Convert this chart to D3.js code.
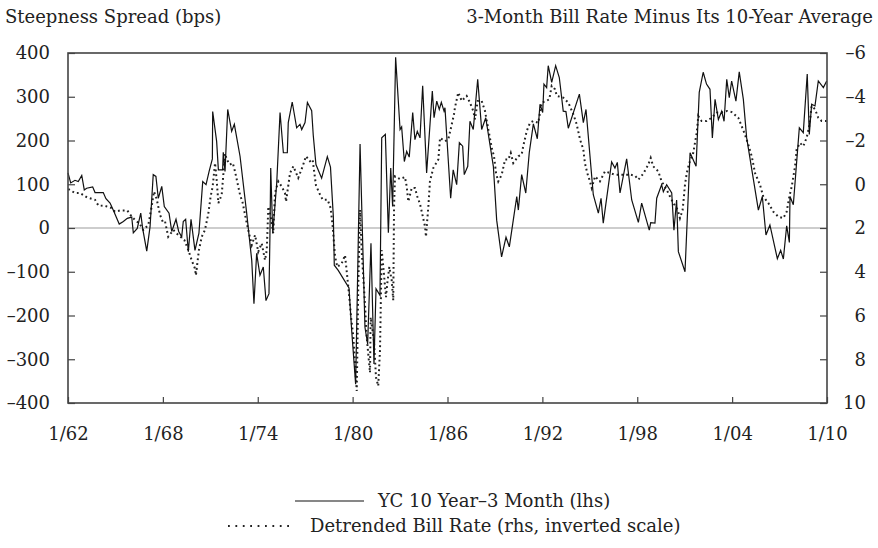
<!DOCTYPE html>
<html>
<head>
<meta charset="utf-8">
<script src="https://cdn.jsdelivr.net/npm/d3@7"></script>
<style>
	body { margin: 0; background: #fff; }
	svg text { font-family: "Palatino Linotype", Palatino, "Book Antiqua", "DejaVu Serif", serif; fill: #222; }
</style>
</head>
<body>
<svg id="chart" width="878" height="548"></svg>
<script>
// YC 10 Year - 3 Month spread (bps, left scale)
const ycYears = [1962.00,1962.17,1962.44,1962.65,1962.87,1963.03,1963.18,1963.56,1963.71,1964.23,1964.40,1964.66,1964.86,1965.24,1965.50,1965.75,1966.03,1966.13,1966.38,1966.60,1966.72,1966.98,1967.19,1967.39,1967.56,1967.71,1967.93,1968.09,1968.39,1968.56,1968.83,1969.00,1969.19,1969.29,1969.44,1969.61,1969.78,1970.03,1970.28,1970.52,1970.73,1970.92,1971.13,1971.15,1971.40,1971.51,1971.78,1971.82,1971.93,1972.10,1972.35,1972.52,1972.88,1973.30,1973.62,1973.76,1973.93,1974.14,1974.35,1974.52,1974.71,1974.77,1974.82,1974.95,1975.20,1975.41,1975.62,1975.87,1975.93,1976.18,1976.46,1976.67,1976.78,1976.99,1977.14,1977.41,1977.51,1977.68,1978.04,1978.40,1978.60,1978.78,1978.84,1979.09,1979.77,1979.94,1980.19,1980.47,1980.78,1980.95,1981.16,1981.35,1981.48,1981.73,1981.84,1982.07,1982.26,1982.41,1982.53,1982.72,1983.00,1983.10,1983.27,1983.42,1983.58,1983.80,1983.94,1984.09,1984.26,1984.43,1984.68,1985.04,1985.15,1985.32,1985.48,1985.61,1985.78,1985.84,1986.20,1986.36,1986.58,1986.75,1986.96,1987.06,1987.28,1987.42,1987.63,1987.91,1988.16,1988.42,1988.90,1989.11,1989.42,1989.70,1989.91,1990.16,1990.38,1990.48,1990.69,1990.95,1991.17,1991.43,1991.68,1991.85,1992.02,1992.10,1992.27,1992.37,1992.59,1992.84,1993.07,1993.32,1993.49,1993.64,1994.34,1994.59,1994.76,1995.22,1995.54,1995.71,1995.85,1996.38,1996.59,1996.74,1996.91,1997.33,1997.65,1998.07,1998.28,1998.76,1998.85,1999.12,1999.23,1999.54,1999.65,1999.86,2000.18,2000.32,2000.49,2000.60,2001.02,2001.34,2001.72,2001.92,2002.17,2002.38,2002.60,2002.75,2002.92,2003.13,2003.34,2003.49,2003.66,2003.82,2003.97,2004.24,2004.45,2004.71,2004.92,2005.66,2005.91,2006.14,2006.39,2006.86,2007.07,2007.24,2007.45,2007.62,2007.66,2007.87,2008.25,2008.50,2008.75,2008.88,2009.03,2009.24,2009.45,2009.77,2009.98];
const ycValues = [126,103,109,106,120,87,91,94,81,81,67,57,41,9,15,22,25,-11,-1,34,-1,-53,3,122,118,68,95,49,34,-8,20,-8,-20,15,20,-54,20,-51,-12,106,99,129,158,266,198,133,133,173,129,271,221,237,164,34,-74,-173,-58,-108,-89,-166,-150,-20,137,-12,103,264,172,172,241,288,229,237,225,241,287,268,212,145,114,163,139,26,-85,-97,-137,-234,-357,192,-227,-265,-35,-311,-139,-154,206,214,-11,137,49,390,225,231,152,175,162,264,202,221,206,325,126,313,252,290,271,287,267,275,68,133,99,195,187,122,141,244,225,340,225,252,141,18,-66,-21,-43,18,72,41,122,80,172,238,204,283,264,329,321,371,333,371,344,267,266,228,306,241,271,76,34,68,11,151,137,150,80,158,64,13,57,-5,12,11,68,99,83,99,80,-5,64,-54,-100,172,141,310,356,329,317,206,294,248,267,244,340,298,336,290,357,294,206,41,72,-16,7,-70,-51,-71,5,-33,72,53,229,218,352,214,283,279,336,321,336];

// detrended 3-month bill rate (pct points, right scale, inverted)
const billYears = [1962.02,1962.44,1962.76,1963.22,1963.71,1963.92,1964.34,1964.76,1964.97,1965.29,1965.75,1966.03,1966.30,1966.51,1966.76,1967.08,1967.29,1967.44,1967.61,1967.82,1967.99,1968.13,1968.34,1968.66,1968.98,1969.36,1969.61,1969.82,1970.03,1970.09,1970.28,1970.46,1970.66,1970.87,1971.02,1971.15,1971.30,1971.40,1971.51,1971.72,1971.93,1972.04,1972.24,1972.42,1972.56,1972.88,1973.05,1973.26,1973.40,1973.62,1973.83,1974.03,1974.25,1974.46,1974.57,1974.67,1974.82,1974.98,1975.09,1975.30,1975.51,1975.72,1975.79,1976.04,1976.25,1976.56,1976.84,1977.05,1977.30,1977.47,1977.68,1977.89,1978.11,1978.42,1978.61,1978.74,1978.89,1979.03,1979.31,1979.52,1979.63,1979.79,1979.90,1980.04,1980.15,1980.26,1980.30,1980.36,1980.47,1980.57,1980.78,1980.89,1981.10,1981.14,1981.35,1981.48,1981.62,1981.73,1981.84,1981.94,1982.11,1982.19,1982.32,1982.47,1982.57,1982.62,1982.68,1983.00,1983.31,1983.42,1983.52,1983.74,1983.94,1984.09,1984.26,1984.37,1984.58,1984.64,1984.72,1984.79,1984.89,1985.10,1985.42,1985.53,1985.84,1986.05,1986.27,1986.41,1986.47,1986.68,1986.90,1987.21,1987.42,1987.63,1987.74,1987.91,1988.16,1988.37,1988.58,1988.80,1988.94,1989.07,1989.21,1989.43,1989.64,1989.85,1990.00,1990.16,1990.48,1990.69,1990.79,1991.01,1991.22,1991.43,1991.74,1991.96,1992.27,1992.44,1992.59,1992.80,1992.91,1993.32,1993.64,1993.96,1994.17,1994.38,1994.59,1994.69,1994.84,1995.01,1995.12,1995.33,1995.64,1995.96,1996.28,1996.59,1997.02,1997.54,1997.86,1998.07,1998.38,1998.70,1998.85,1999.01,1999.33,1999.54,1999.86,2000.07,2000.28,2000.56,2000.70,2000.87,2001.02,2001.13,2001.29,2001.54,2001.76,2001.86,2002.07,2002.39,2002.71,2003.02,2003.40,2003.69,2003.97,2004.39,2004.60,2004.81,2005.02,2005.24,2005.45,2005.76,2005.97,2006.29,2006.60,2006.92,2007.24,2007.45,2007.62,2007.77,2007.98,2008.08,2008.29,2008.50,2008.71,2008.88,2009.03,2009.24,2009.45,2009.66,2009.98];
const billValues = [0.22,0.40,0.40,0.61,0.71,0.97,0.99,1.09,1.25,1.20,1.20,1.48,1.68,1.78,2.09,1.86,1.02,0.33,0.68,1.40,1.71,1.68,2.40,2.09,2.32,2.55,3.01,3.47,3.85,4.16,3.01,2.40,2.09,1.36,0.56,0.10,-0.97,-0.21,0.86,0.48,-1.40,-1.13,-0.90,-0.97,-0.59,0.48,0.86,1.63,2.09,2.78,2.32,3.09,2.70,3.47,3.01,1.02,1.48,2.24,0.40,-0.13,0.10,0.40,0.79,-0.51,-0.82,-0.29,-0.82,-1.28,-1.05,-1.13,0.05,0.40,0.71,0.71,1.09,1.94,3.30,3.78,3.62,3.24,4.01,5.16,6.08,6.92,8.22,9.45,7.61,4.54,1.17,3.01,5.46,7.00,8.61,6.08,7.15,8.84,9.22,7.61,3.01,3.78,5.16,4.54,3.78,4.39,5.31,1.02,-0.36,-0.24,-0.33,0.10,0.79,0.17,0.17,0.56,0.90,1.25,1.94,2.40,1.63,1.02,-0.13,-0.74,-1.13,-2.12,-1.97,-2.05,-2.74,-3.20,-3.50,-4.19,-3.81,-4.04,-3.73,-3.35,-2.97,-3.81,-3.81,-3.35,-2.51,-1.66,-1.28,-0.51,-0.13,-0.44,-1.13,-1.13,-1.43,-0.97,-1.28,-1.36,-1.74,-2.43,-2.81,-2.89,-2.81,-3.73,-3.81,-3.89,-4.50,-4.34,-4.04,-3.96,-3.73,-3.20,-2.74,-2.05,-1.59,-0.97,-0.51,-0.13,0.17,-0.36,-0.13,-0.59,-0.51,-0.44,-0.44,-0.44,-0.39,-0.21,-0.48,-0.90,-1.20,-0.82,-0.59,-0.13,0.25,0.56,0.86,1.17,1.55,1.17,0.02,-0.51,-0.97,-1.43,-2.35,-3.12,-2.89,-2.89,-3.04,-3.27,-3.30,-3.35,-3.30,-3.04,-2.66,-2.28,-1.82,-1.28,-0.51,0.02,0.56,0.86,1.25,1.48,1.55,1.25,0.56,0.10,-0.82,-1.59,-1.89,-1.74,-2.12,-2.66,-3.58,-3.43,-3.04,-2.89,-2.89];

const xTickYears = [1962,1968,1974,1980,1986,1992,1998,2004,2010];
const xTickLabels = ["1/62","1/68","1/74","1/80","1/86","1/92","1/98","1/04","1/10"];
const leftTicks = [400,300,200,100,0,-100,-200,-300,-400];
const rightTicks = [-6,-4,-2,0,2,4,6,8,10];

const svg = d3.select("#chart"),
	margin = {top: 53, right: 51, bottom: 145, left: 68},
	width = +svg.attr("width") - margin.left - margin.right,
	height = +svg.attr("height") - margin.top - margin.bottom,
	x = d3.scaleLinear().domain([1962, 2010]).range([0, width]),
	yL = d3.scaleLinear().domain([-400, 400]).range([height, 0]),
	yR = d3.scaleLinear().domain([-6, 10]).range([0, height]),
	g = svg.append("g").attr("transform", `translate(${margin.left},${margin.top})`);

const dash = d => d < 0 ? "\u2013" + Math.abs(d) : "" + d;

// zero line
g.append("line")
	.attr("x1", 0).attr("x2", width)
	.attr("y1", yL(0)).attr("y2", yL(0))
	.attr("stroke", "#bdbdbd").attr("stroke-width", 1.5);

// detrended bill rate, dotted
g.append("path")
	.datum(billYears.map((d, i) => [d, billValues[i]]))
	.attr("fill", "none")
	.attr("stroke", "#222")
	.attr("stroke-width", 2)
	.attr("stroke-dasharray", "1.8,3")
	.attr("d", d3.line().x(d => x(d[0])).y(d => yR(d[1])));

// yield curve spread, solid
g.append("path")
	.datum(ycYears.map((d, i) => [d, ycValues[i]]))
	.attr("fill", "none")
	.attr("stroke", "#111")
	.attr("stroke-width", 1.2)
	.attr("stroke-linejoin", "miter")
	.attr("d", d3.line().x(d => x(d[0])).y(d => yL(d[1])));

// axes
const axL = g.append("g")
	.call(d3.axisLeft(yL).tickValues(leftTicks).tickSize(-7).tickPadding(18).tickFormat(dash));
const axR = g.append("g")
	.attr("transform", `translate(${width},0)`)
	.call(d3.axisRight(yR).tickValues(rightTicks).tickSize(-7).tickPadding(39).tickFormat(dash));
axR.selectAll("text").attr("text-anchor", "end");
const axB = g.append("g")
	.attr("transform", `translate(0,${height})`)
	.call(d3.axisBottom(x).tickValues(xTickYears).tickSize(-6).tickPadding(24)
		.tickFormat((d, i) => xTickLabels[i]));

[axL, axR, axB].forEach(a => {
	a.select(".domain").remove();
	a.selectAll("line").attr("stroke", "#444").attr("stroke-width", 1.2);
	a.selectAll("text").style("font-size", "18px").attr("fill", "#222");
});

// frame
g.append("rect")
	.attr("width", width).attr("height", height)
	.attr("fill", "none").attr("stroke", "#444").attr("stroke-width", 1.6);

// titles
svg.append("text").attr("x", 5).attr("y", 23).style("font-size", "18px")
	.text("Steepness Spread (bps)");
svg.append("text").attr("x", 873).attr("y", 23).attr("text-anchor", "end").style("font-size", "18px")
	.text("3-Month Bill Rate Minus Its 10-Year Average");

// legend
const leg = svg.append("g");
leg.append("line").attr("x1", 295).attr("x2", 364).attr("y1", 501).attr("y2", 501)
	.attr("stroke", "#111").attr("stroke-width", 1.2);
leg.append("text").attr("x", 378).attr("y", 507).style("font-size", "18px")
	.text("YC 10 Year\u20133 Month (lhs)");
leg.append("line").attr("x1", 228).attr("x2", 289).attr("y1", 526).attr("y2", 526)
	.attr("stroke", "#222").attr("stroke-width", 2).attr("stroke-dasharray", "1.8,5.6");
leg.append("text").attr("x", 310).attr("y", 532).style("font-size", "18px")
	.text("Detrended Bill Rate (rhs, inverted scale)");
</script>
</body>
</html>
